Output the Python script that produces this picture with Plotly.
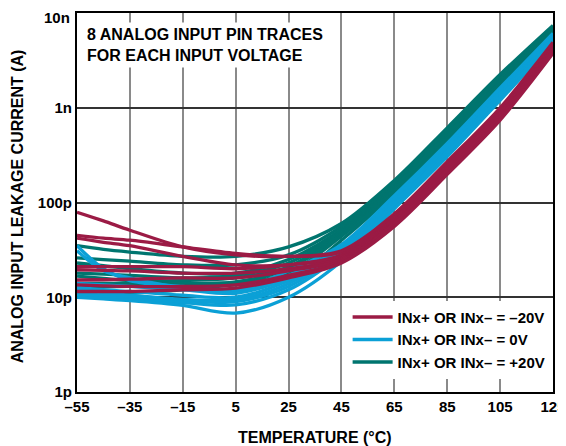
import plotly.graph_objects as go

TEMPS = [-55, -45, -35, -15, 5, 25, 45, 65, 85, 105, 125]

# leakage current in pA, 8 pins per input voltage
MAROON_PA = [
    [79, 64, 51, 34, 28, 27, 31, 76, 270, 1000, 4900],
    [45, 42, 40, 34, 29, 27, 30, 72, 258, 960, 4700],
    [42, 38, 35, 27, 22, 22, 28, 69, 246, 920, 4500],
    [21, 21, 21, 21, 20, 22, 27, 67, 237, 890, 4350],
    [19.5, 19.2, 19, 18, 18, 20, 26, 64, 230, 860, 4250],
    [15.2, 15.3, 15.5, 16, 16, 19, 25, 62, 221, 825, 4100],
    [13.5, 13.2, 13, 13, 13.5, 17, 24, 60, 212, 790, 3950],
    [11.5, 11.5, 11.5, 12, 12.5, 16, 23, 56, 198, 740, 3750],
]
BLUE_PA = [
    [35, 20, 15, 13, 12, 19, 36, 118, 420, 1620, 6100],
    [31, 19, 16, 12.5, 11.5, 17, 34, 112, 400, 1560, 5900],
    [14, 13.5, 13, 12, 11, 16, 33, 108, 385, 1500, 5700],
    [12.8, 12, 11.5, 10.5, 10, 15, 32, 104, 370, 1440, 5500],
    [12, 11.2, 10.5, 9.5, 9.4, 14, 31, 100, 355, 1400, 5350],
    [11, 10.5, 10, 9.2, 9, 13, 30, 96, 345, 1340, 5200],
    [10.8, 10.1, 9.5, 8.8, 8.3, 12, 28, 92, 330, 1290, 5000],
    [10, 9.6, 9.2, 8.2, 6.8, 10, 24, 86, 305, 1200, 4800],
]
TEAL_PA = [
    [35, 32, 30, 27, 27, 34, 60, 171, 614, 2240, 7400],
    [26, 25, 24, 22, 22, 28, 56, 162, 582, 2130, 7200],
    [23, 21.5, 20, 18, 18, 25, 52, 155, 556, 2030, 7000],
    [18, 17.5, 17, 16, 17, 23, 50, 149, 536, 1960, 6800],
    [16.7, 15.8, 15, 15, 16, 21, 48, 145, 520, 1900, 6600],
    [14, 14, 14, 14, 14.5, 20, 46, 139, 499, 1820, 6350],
    [12.8, 12.9, 13, 13, 14, 18, 44, 133, 478, 1750, 6100],
    [10, 10.5, 11, 12, 13.5, 15, 40, 125, 447, 1630, 5800],
]

SERIES = [
    ("INx+ OR INx– = +20V", "#00756F", TEAL_PA, 3),
    ("INx+ OR INx– = 0V", "#0BA0D6", BLUE_PA, 2),
    ("INx+ OR INx– = –20V", "#9B1B45", MAROON_PA, 1),
]

X_TICKS = [-55, -35, -15, 5, 25, 45, 65, 85, 105, 125]
Y_TICKVALS = [1e-12, 1e-11, 1e-10, 1e-9, 1e-8]
Y_TICKTEXT = ["1p", "10p", "100p", "1n", "10n"]

FONT = "Liberation Sans, Arial, sans-serif"

fig = go.Figure()
for name, color, curves, rank in SERIES:
    for i, vals in enumerate(curves):
        fig.add_trace(go.Scatter(
            x=TEMPS, y=[v * 1e-12 for v in vals], mode="lines",
            line=dict(color=color, width=3.3, shape="spline", smoothing=0.9),
            name=name, legendgroup=name, showlegend=(i == 0), legendrank=rank,
        ))

# top tick label is drawn as an annotation so it sits just below the top edge
tick_text_axis = Y_TICKTEXT[:-1] + [""]

# the page adds an 8px body margin, so the figure is offset by -8px here
fig.update_layout(
    width=566, height=446,
    margin=dict(l=69, r=21, t=5, b=62),
    paper_bgcolor="white", plot_bgcolor="white",
    font=dict(family=FONT, size=15, color="black"),
    showlegend=True,
    legend=dict(
        x=0.995, y=0.035, xanchor="right", yanchor="bottom",
        bgcolor="white", borderwidth=0,
        font=dict(family=FONT, size=15, color="black", weight="bold"),
        tracegroupgap=0, itemwidth=40,
    ),
    xaxis=dict(
        range=[-55, 125], tickvals=X_TICKS, ticktext=[str(t).replace("-", "–") for t in X_TICKS],
        showgrid=True, gridcolor="#8a8a8a", gridwidth=1.6,
        showline=True, linecolor="black", linewidth=2, mirror=True,
        ticks="", zeroline=False, automargin=False, ticklabeloverflow="allow",
        tickfont=dict(family=FONT, size=15, weight="bold"),
    ),
    yaxis=dict(
        type="log", range=[-12, -8], tickvals=Y_TICKVALS, ticktext=tick_text_axis,
        showgrid=True, gridcolor="#333333", gridwidth=1.6,
        showline=True, linecolor="black", linewidth=2, mirror=True,
        ticks="", zeroline=False, automargin=False, ticklabeloverflow="allow",
        tickfont=dict(family=FONT, size=15, weight="bold"),
    ),
    annotations=[
        dict(
            xref="paper", yref="paper", x=-0.012, y=1.013, xanchor="right", yanchor="top",
            text="<b>" + Y_TICKTEXT[-1] + "</b>", showarrow=False, borderpad=0,
            font=dict(family=FONT, size=15, color="black"),
        ),
        dict(
            xref="paper", yref="paper", x=0.012, y=0.975, xanchor="left", yanchor="top",
            text="<b>8 ANALOG INPUT PIN TRACES<br>FOR EACH INPUT VOLTAGE</b>",
            align="left", showarrow=False, bgcolor="white", borderpad=3,
            font=dict(family=FONT, size=16, color="black"),
        ),
        dict(
            xref="paper", yref="paper", x=0.5, y=-0.119, xanchor="center", yanchor="middle",
            text="<b>TEMPERATURE (°C)</b>", showarrow=False,
            font=dict(family=FONT, size=16, color="black"),
        ),
        dict(
            xref="paper", yref="paper", x=-0.126, y=0.49, xanchor="center", yanchor="middle",
            text="<b>ANALOG INPUT LEAKAGE CURRENT (A)</b>", showarrow=False, textangle=-90,
            font=dict(family=FONT, size=16, color="black"),
        ),
    ],
)

fig.write_html("out.html")
